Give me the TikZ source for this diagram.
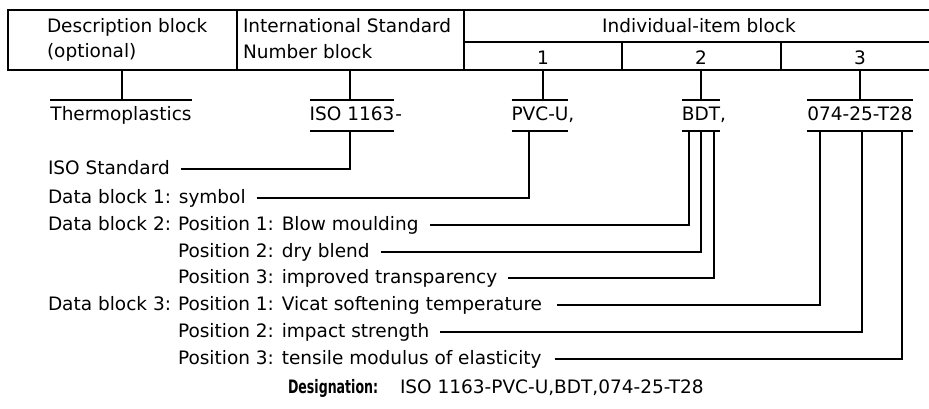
\documentclass[tikz,border=0pt]{standalone}
\usepackage{fontspec}
\usepackage{graphicx}
\setmainfont{DejaVu Sans}
\begin{document}
\begin{tikzpicture}[x=1pt,y=-1pt,line width=1.3pt,
  txt/.style={inner sep=0pt,outer sep=0pt,font=\fontsize{18.5}{21}\selectfont},
  lbl/.style={txt,anchor=base west},
  ctr/.style={txt,anchor=base},
  lead/.style={line width=1.1pt}]
\useasboundingbox (0,0) rectangle (929,408);
% header table
\draw (929,10) -- (8,10) -- (8,70) -- (929,70);
\draw (237,10) -- (237,70);
\draw (464,10) -- (464,70);
\draw (464,42) -- (929,42);
\draw (622,42) -- (622,70);
\draw (781,42) -- (781,70);
\node[lbl] (d1) at (47,32) {Description block};
\node[lbl] (d2) at (47,57) {(optional)};
\node[lbl] (i1) at (243,32) {International Standard};
\node[lbl] (i2) at (243,58) {Number block};
\node[ctr] (ib) at (699,32) {Individual-item block};
\node[ctr] (c1) at (543,64) {1};
\node[ctr] (c2) at (701,64) {2};
\node[ctr] (c3) at (860,64) {3};
% helper levels
\coordinate (cellY) at (0,70);
\coordinate (barY) at (0,100);
\coordinate (ulY) at (0,131);
% designation parts
\node[ctr] (thermo) at (121,120) {Thermoplastics};
\node[ctr] (iso) at (352,120) {ISO 1163};
\node[lbl] (isodash) at ([xshift=1pt]iso.base east) {-};
\node[ctr] (pvc) at (540,120) {PVC-U};
\node[lbl] (pvccomma) at (pvc.base east) {,};
\node[ctr] (bdt) at (701,120) {BDT};
\node[lbl] (bdtcomma) at (bdt.base east) {,};
\node[ctr] (num) at (860,120) {074-25-T28};
% over/under bars
\draw (thermo.west |- barY) -- (thermo.east |- barY);
\foreach \n in {iso,pvc,bdt,num}{
  \draw (\n.west |- barY) -- (\n.east |- barY);
  \draw (\n.west |- ulY) -- (\n.east |- ulY);
}
% verticals from table
\draw (122,70) -- (122,100);
\draw (350,70) -- (350,100);
\draw (543,70) -- (543,100);
\draw (701,70) -- (701,100);
\draw (860,70) -- (860,100);
% lower attachment points
\coordinate (isoU) at (350,131);
\coordinate (pvcU) at (529,131);
\coordinate (bdtA) at (689,131);
\coordinate (bdtB) at (701,131);
\coordinate (bdtC) at (714,131);
\coordinate (numA) at (820,131);
\coordinate (numB) at (862,131);
\coordinate (numC) at (902,131);
% labels
\node[lbl] (isostd) at (48,174) {ISO Standard};
\node[lbl] (db1) at (48,203) {Data block 1: symbol};
\node[lbl] (db2) at (48,230) {Data block 2:};
\node[lbl] (p21) at ([xshift=7pt]db2.base east) {Position 1: Blow moulding};
\node[lbl] (p22) at ([yshift=-27pt]p21.base west) {Position 2: dry blend};
\node[lbl] (p23) at ([yshift=-53pt]p21.base west) {Position 3: improved transparency};
\node[lbl] (db3) at (48,310) {Data block 3:};
\node[lbl] (p31) at ([xshift=7pt]db3.base east) {Position 1: Vicat softening temperature};
\node[lbl] (p32) at ([yshift=-27pt]p31.base west) {Position 2: impact strength};
\node[lbl] (p33) at ([yshift=-54pt]p31.base west) {Position 3: tensile modulus of elasticity};
% leaders
\draw[lead] ([xshift=11pt,yshift=5pt]isostd.base east) -| (isoU);
\draw[lead] ([xshift=11pt,yshift=5pt]db1.base east) -| (pvcU);
\draw[lead] ([xshift=11pt,yshift=5pt]p21.base east) -| (bdtA);
\draw[lead] ([xshift=11pt,yshift=5pt]p22.base east) -| (bdtB);
\draw[lead] ([xshift=11pt,yshift=5pt]p23.base east) -| (bdtC);
\draw[lead] ([xshift=15pt,yshift=5pt]p31.base east) -| (numA);
\draw[lead] ([xshift=11pt,yshift=5pt]p32.base east) -| (numB);
\draw[lead] ([xshift=13pt,yshift=5pt]p33.base east) -| (numC);
% designation
\node[lbl] (desig) at (288,393) {\scalebox{0.68}[1]{\bfseries Designation:}};
\node[lbl] (desval) at (400,393) {ISO 1163-PVC-U,BDT,074-25-T28};
\end{tikzpicture}
\end{document}
